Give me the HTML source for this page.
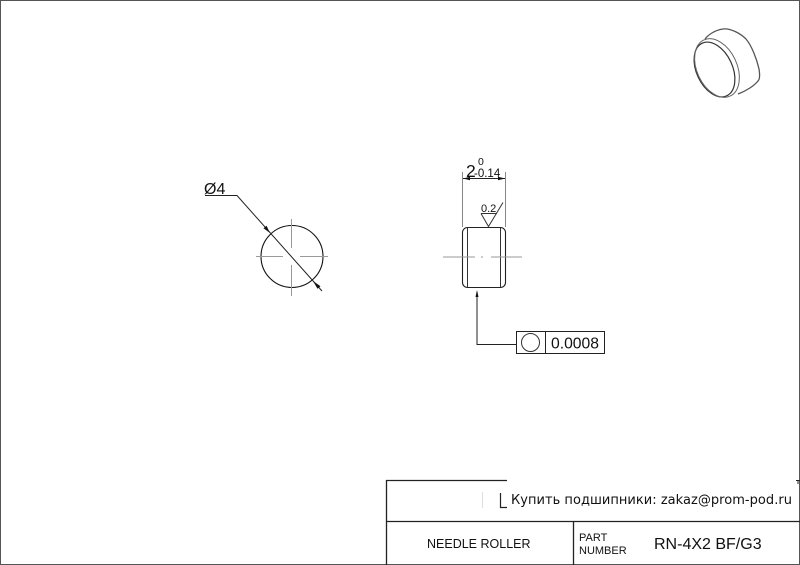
<!DOCTYPE html>
<html><head><meta charset="utf-8"><style>
html,body{margin:0;padding:0;background:#fff;overflow:hidden}
svg{display:block}
text{font-family:"Liberation Sans",sans-serif;fill:#111}
</style></head><body>
<svg width="800" height="565" viewBox="0 0 800 565" xmlns="http://www.w3.org/2000/svg">
<rect x="0.5" y="0.5" width="799" height="564" fill="#fff" stroke="#555" stroke-width="1"/>
<!-- isometric view -->
<g fill="none" stroke="#333" stroke-width="1">
<ellipse cx="714.500" cy="69.500" rx="18" ry="29" transform="rotate(-25 714.500 69.500)" stroke-width="1.200"/>
<ellipse cx="717" cy="68" rx="20" ry="31" transform="rotate(-25 717 68)" stroke="#666"/>
<path d="M705 39C708 35 715 30 723 29C730 28 740 33 746 39C752 46 757 60 759 69C760 75 760 79 758 81C754 86 746 91 738 94" stroke="#555" stroke-width="1.300"/>
</g>
<!-- circle view -->
<circle cx="292" cy="256.500" r="31" fill="none" stroke="#111" stroke-width="1.100"/>
<path d="M256 256.500H283M300 256.500H328M291.500 219V248M291.500 265V296" stroke="#999" stroke-width="1" fill="none"/>
<path d="M205 195.500H237L322 291" fill="none" stroke="#222" stroke-width="1"/>
<path d="M270 233L266.500 225.700L263.500 228.300ZM313 281L320.500 286.200L317.500 288.800Z" fill="#111"/>
<text x="204" y="194" font-size="16">Ø4</text>
<!-- side view -->
<rect x="462.500" y="227.500" width="43" height="60" rx="5" fill="none" stroke="#222" stroke-width="1.100"/>
<path d="M467.500 228V287M500.500 228V287" stroke="#333" stroke-width="1"/>
<path d="M443 257H475M481 257H483M491 257H522" stroke="#999" stroke-width="1"/>
<path d="M462.500 172V227M505.500 172V227" stroke="#888" stroke-width="1"/>
<path d="M463 178.500H505" stroke="#222" stroke-width="1"/>
<path d="M463 178.500L470 176.800V180.200ZM505 178.500L498 176.800V180.200Z" fill="#111"/>
<text x="466" y="177" font-size="17.500">2</text>
<text x="478" y="165" font-size="10.500">0</text>
<text x="474" y="177" font-size="11.500">-0.14</text>
<!-- roughness -->
<path d="M481 213.500L488.500 226.500L503 202.500M481 213.500H497" fill="none" stroke="#333" stroke-width="1"/>
<text x="481" y="212" font-size="11">0.2</text>
<!-- runout leader and feature frame -->
<path d="M477 292V344.500H516" fill="none" stroke="#222" stroke-width="1"/>
<path d="M477 290L475.500 297H478.500Z" fill="#111"/>
<rect x="516.500" y="331.500" width="88" height="22" fill="#fff" stroke="#222" stroke-width="1"/>
<path d="M545.500 332V353" stroke="#222" stroke-width="1"/>
<circle cx="530.500" cy="342.500" r="9" fill="none" stroke="#333" stroke-width="1"/>
<text x="551" y="348.500" font-size="15.700">0.0008</text>
<!-- title block -->
<path d="M386.500 565V480.500H507M386 521.500H800M573.500 522V565" fill="none" stroke="#222" stroke-width="1.300"/>
<path d="M482.500 492V508" stroke="#ddd" stroke-width="1"/>
<path d="M500.500 493V507.500H507" fill="none" stroke="#222" stroke-width="1.200"/>
<text x="511" y="504" font-size="13" textLength="281" style="font-family:'DejaVu Sans',sans-serif">Купить подшипники: zakaz@prom-pod.ru</text>
<path d="M796 480.500H800M798 480V484" stroke="#222" stroke-width="1"/>
<text x="427" y="548" font-size="12.500">NEEDLE ROLLER</text>
<text x="579" y="541" font-size="11">PART</text>
<text x="579" y="554" font-size="11">NUMBER</text>
<text x="654" y="549" font-size="16">RN-4X2 BF/G3</text>
</svg>
</body></html>
